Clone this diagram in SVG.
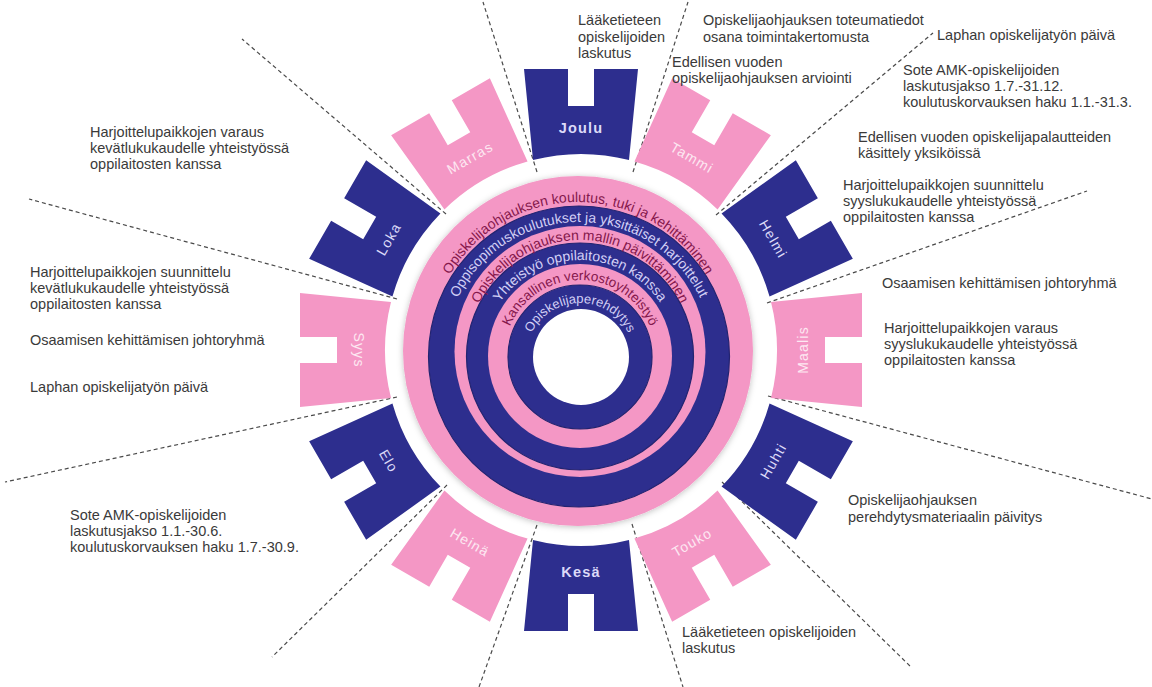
<svg xmlns="http://www.w3.org/2000/svg" width="1152" height="687" viewBox="0 0 1152 687">
<style>
.blue{fill:#2d2e8e}
.pink{fill:#f497c5}
.rblue{fill:#2d2e8e;stroke:#232470;stroke-width:1.2}
.lbl{font-family:"Liberation Sans",Arial,sans-serif;font-size:14px;text-anchor:middle;dominant-baseline:central;letter-spacing:1.2px}
.lb{fill:#dcdaf8}
.lp{fill:#fde8f2}
.bold{font-weight:bold;font-size:14.5px}
.ring{font-family:"Liberation Sans",Arial,sans-serif;font-size:14px;text-anchor:middle}
.rp{fill:#85184c}
.rb{fill:#d3d0f6}
.note{font-family:"Liberation Sans",Arial,sans-serif;font-size:14.5px;fill:#3a3a3a}
.dash{stroke:#4a4a4a;stroke-width:1.2;stroke-dasharray:4 3;fill:none}
</style>
<defs>
<path id="blk" d="M -48,-190 L -57,-281 L -13,-281 L -13,-244 L 13,-244 L 13,-281 L 57,-281 L 48,-190 A 196 196 0 0 0 -48,-190 Z"/>
<path id="t1" d="M 429,351 A 149 149 0 0 1 727,351"/>
<path id="t2" d="M 444.5,356.5 A 134.5 134.5 0 0 1 713.5,356.5"/>
<path id="t3" d="M 468.5,351.5 A 111.5 111.5 0 0 1 691.5,351.5"/>
<path id="t4" d="M 483.5,356.5 A 96.5 96.5 0 0 1 676.5,356.5"/>
<path id="t5" d="M 504,356 A 76 76 0 0 1 656,356"/>
<path id="t6" d="M 526,357 A 54 54 0 0 1 634,357"/>
<filter id="sh" x="-20%" y="-20%" width="140%" height="140%">
<feDropShadow dx="0" dy="1" stdDeviation="3" flood-color="#000" flood-opacity="0.25"/>
</filter>
</defs>
<rect width="1152" height="687" fill="#ffffff"/>

<g id="connectors">
<line class="dash" x1="633" y1="172" x2="688" y2="2"/>
<line class="dash" x1="716" y1="215" x2="933" y2="33"/>
<line class="dash" x1="767" y1="303" x2="1087" y2="191"/>
<line class="dash" x1="768" y1="396" x2="1152" y2="499"/>
<line class="dash" x1="722" y1="482" x2="912" y2="668"/>
<line class="dash" x1="632" y1="524" x2="683" y2="687"/>
<line class="dash" x1="537" y1="525" x2="479" y2="687"/>
<line class="dash" x1="447" y1="485" x2="272" y2="657"/>
<line class="dash" x1="397" y1="397" x2="5" y2="482"/>
<line class="dash" x1="397" y1="299" x2="29" y2="199"/>
<line class="dash" x1="446" y1="214" x2="242" y2="39"/>
<line class="dash" x1="537" y1="172" x2="483" y2="2"/>
</g>

<g id="wheel">
<circle cx="578" cy="351" r="175" class="pink" filter="url(#sh)"/>
<circle cx="579" cy="356.5" r="150.5" class="rblue"/>
<circle cx="580" cy="351.5" r="125.5" class="pink"/>
<circle cx="580" cy="356.5" r="113.5" class="rblue"/>
<circle cx="580" cy="356" r="92" class="pink"/>
<circle cx="580" cy="357" r="72" class="rblue"/>
<circle cx="581" cy="357" r="48" fill="#ffffff"/>
<text class="ring rp"><textPath href="#t1" startOffset="50%">Opiskelijaohjauksen koulutus, tuki ja kehittäminen</textPath></text>
<text class="ring rb"><textPath href="#t2" startOffset="50%">Oppisopimuskoulutukset ja yksittäiset harjoittelut</textPath></text>
<text class="ring rp"><textPath href="#t3" startOffset="50%">Opiskelijaohjauksen mallin päivittäminen</textPath></text>
<text class="ring rb"><textPath href="#t4" startOffset="50%">Yhteistyö oppilaitosten kanssa</textPath></text>
<text class="ring rp" style="font-size:13.5px"><textPath href="#t5" startOffset="50%">Kansallinen verkostoyhteistyö</textPath></text>
<text class="ring rb" style="font-size:13px"><textPath href="#t6" startOffset="50%">Opiskelijaperehdytys</textPath></text>
</g>

<g id="joulu" transform="translate(581 350) rotate(0)"><use href="#blk" class="blue"/><text class="lbl lb bold" transform="translate(0 -222)">Joulu</text></g>
<g id="tammi" transform="translate(581 350) rotate(30)"><use href="#blk" class="pink"/><text class="lbl lp" transform="translate(0 -222)">Tammi</text></g>
<g id="helmi" transform="translate(581 350) rotate(60)"><use href="#blk" class="blue"/><text class="lbl lb" transform="translate(0 -222)">Helmi</text></g>
<g id="maalis" transform="translate(581 350) rotate(90)"><use href="#blk" class="pink"/><text class="lbl lp" transform="translate(0 -222) rotate(180)">Maalis</text></g>
<g id="huhti" transform="translate(581 350) rotate(120)"><use href="#blk" class="blue"/><text class="lbl lb" transform="translate(0 -222) rotate(180)">Huhti</text></g>
<g id="touko" transform="translate(581 350) rotate(150)"><use href="#blk" class="pink"/><text class="lbl lp" transform="translate(0 -222) rotate(180)">Touko</text></g>
<g id="kesa" transform="translate(581 350) rotate(180)"><use href="#blk" class="blue"/><text class="lbl lb bold" transform="translate(0 -222) rotate(180)">Kesä</text></g>
<g id="heina" transform="translate(581 350) rotate(210)"><use href="#blk" class="pink"/><text class="lbl lp" transform="translate(0 -222) rotate(180)">Heinä</text></g>
<g id="elo" transform="translate(581 350) rotate(240)"><use href="#blk" class="blue"/><text class="lbl lb" transform="translate(0 -222) rotate(180)">Elo</text></g>
<g id="syys" transform="translate(581 350) rotate(270)"><use href="#blk" class="pink"/><text class="lbl lp" transform="translate(0 -222) rotate(180)">Syys</text></g>
<g id="loka" transform="translate(581 350) rotate(300)"><use href="#blk" class="blue"/><text class="lbl lb" transform="translate(0 -222)">Loka</text></g>
<g id="marras" transform="translate(581 350) rotate(330)"><use href="#blk" class="pink"/><text class="lbl lp" transform="translate(0 -222)">Marras</text></g>

<g id="notes">
<text class="note" x="578" y="25">Lääketieteen</text>
<text class="note" x="578" y="42">opiskelijoiden</text>
<text class="note" x="578" y="58">laskutus</text>
<text class="note" x="703" y="25">Opiskelijaohjauksen toteumatiedot</text>
<text class="note" x="703" y="42">osana toimintakertomusta</text>
<text class="note" x="672" y="67">Edellisen vuoden</text>
<text class="note" x="672" y="83">opiskelijaohjauksen arviointi</text>
<text class="note" x="937" y="40">Laphan opiskelijatyön päivä</text>
<text class="note" x="903" y="75">Sote AMK-opiskelijoiden</text>
<text class="note" x="903" y="91">laskutusjakso 1.7.-31.12.</text>
<text class="note" x="903" y="107">koulutuskorvauksen haku 1.1.-31.3.</text>
<text class="note" x="858" y="142">Edellisen vuoden opiskelijapalautteiden</text>
<text class="note" x="858" y="158">käsittely yksiköissä</text>
<text class="note" x="843" y="190">Harjoittelupaikkojen suunnittelu</text>
<text class="note" x="843" y="206">syyslukukaudelle yhteistyössä</text>
<text class="note" x="843" y="222">oppilaitosten kanssa</text>
<text class="note" x="882" y="288">Osaamisen kehittämisen johtoryhmä</text>
<text class="note" x="884" y="333">Harjoittelupaikkojen varaus</text>
<text class="note" x="884" y="349">syyslukukaudelle yhteistyössä</text>
<text class="note" x="884" y="365">oppilaitosten kanssa</text>
<text class="note" x="848" y="505">Opiskelijaohjauksen</text>
<text class="note" x="848" y="522">perehdytysmateriaalin päivitys</text>
<text class="note" x="682" y="637">Lääketieteen opiskelijoiden</text>
<text class="note" x="682" y="653">laskutus</text>
<text class="note" x="90" y="137">Harjoittelupaikkojen varaus</text>
<text class="note" x="90" y="153">kevätlukukaudelle yhteistyössä</text>
<text class="note" x="90" y="169">oppilaitosten kanssa</text>
<text class="note" x="30" y="277">Harjoittelupaikkojen suunnittelu</text>
<text class="note" x="30" y="293">kevätlukukaudelle yhteistyössä</text>
<text class="note" x="30" y="309">oppilaitosten kanssa</text>
<text class="note" x="30" y="345">Osaamisen kehittämisen johtoryhmä</text>
<text class="note" x="30" y="392">Laphan opiskelijatyön päivä</text>
<text class="note" x="70" y="520">Sote AMK-opiskelijoiden</text>
<text class="note" x="70" y="536">laskutusjakso 1.1.-30.6.</text>
<text class="note" x="70" y="552">koulutuskorvauksen haku 1.7.-30.9.</text>
</g>
</svg>
